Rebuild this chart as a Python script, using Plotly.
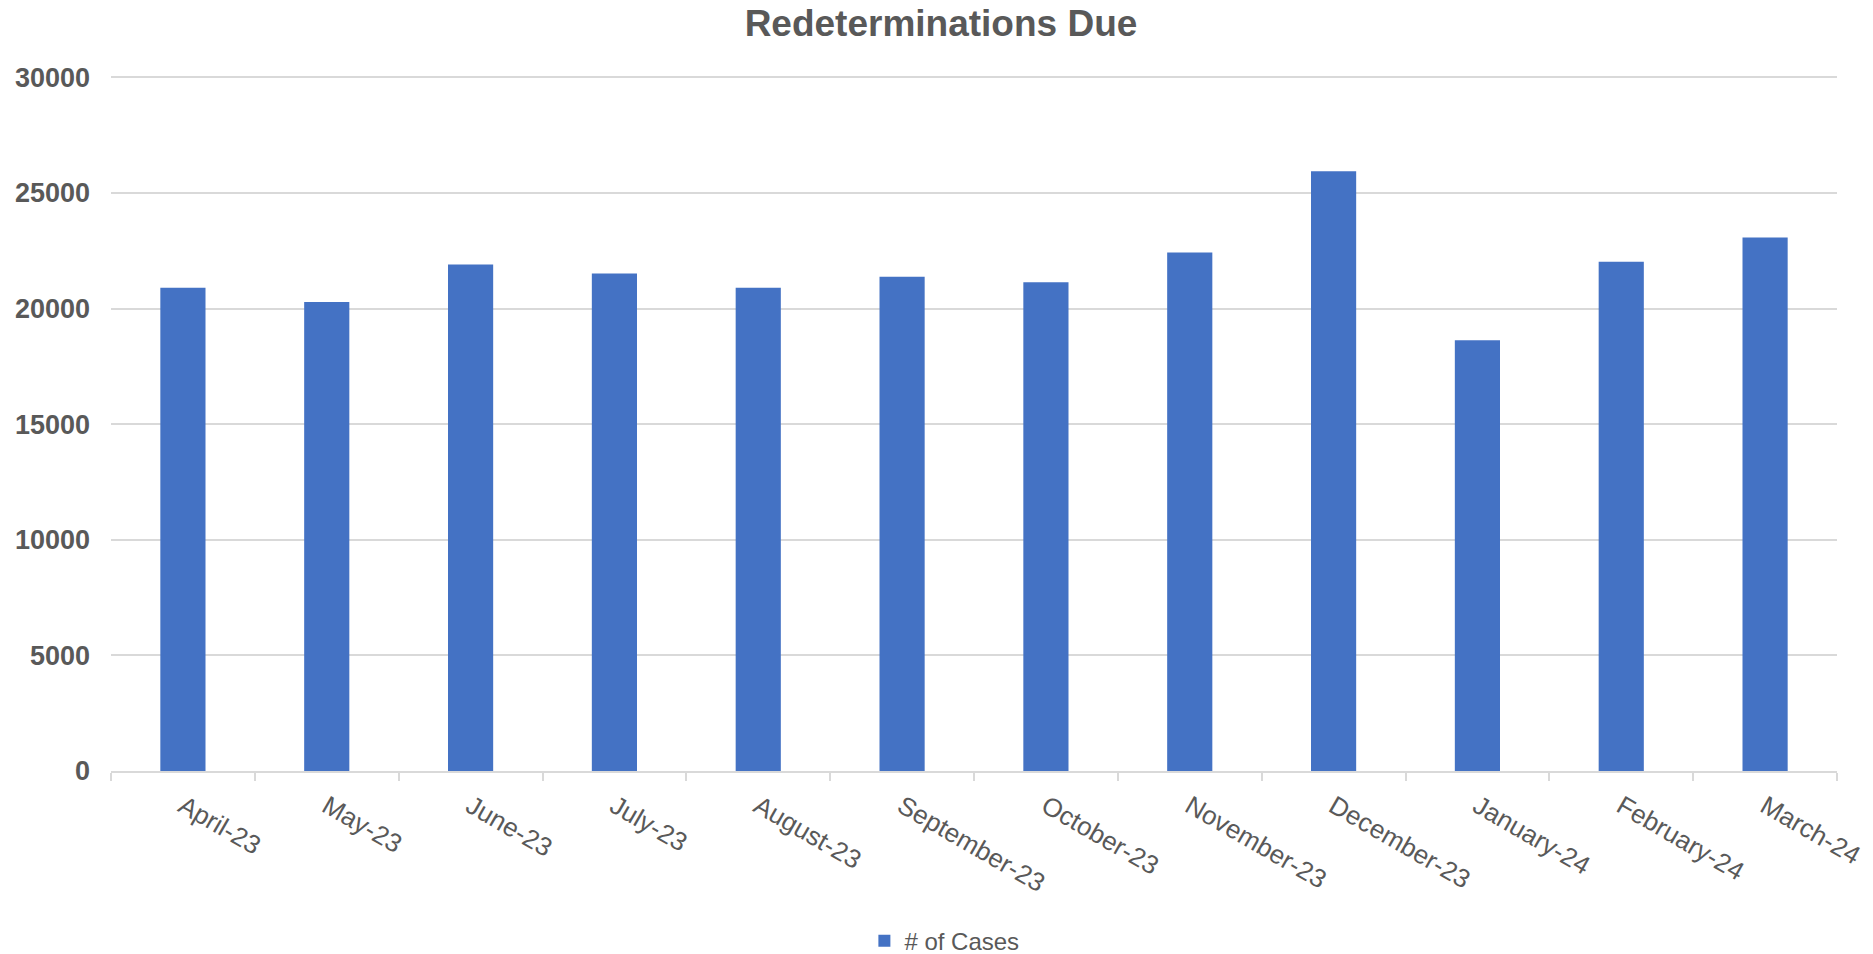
import plotly.graph_objects as go

months = ["April-23", "May-23", "June-23", "July-23", "August-23", "September-23",
          "October-23", "November-23", "December-23", "January-24", "February-24", "March-24"]
cases = [20900, 20280, 21910, 21520, 20900, 21380, 21140, 22430, 25940, 18630, 22030, 23070]
y_ticks = [0, 5000, 10000, 15000, 20000, 25000, 30000]

GRAY = "#595959"
GRID = "#d9d9d9"
FONT = "Liberation Sans, Arial, sans-serif"

fig = go.Figure()
fig.add_trace(go.Bar(
    x=months, y=cases, name="# of Cases",
    marker=dict(color="#4472C4", line=dict(width=0)),
    showlegend=True,
))

fig.update_layout(
    width=1873, height=954,
    margin=dict(l=111, r=36, t=76, b=183, autoexpand=False),
    paper_bgcolor="white", plot_bgcolor="white",
    bargap=0.686,
    font=dict(family=FONT, color=GRAY),
    title=dict(text="<b>Redeterminations Due</b>", x=0.5024, xanchor="center",
               y=0.976, yanchor="middle", yref="container",
               font=dict(size=37, color=GRAY, family=FONT)),
    legend=dict(orientation="h", xref="container", yref="container",
                x=0.4615, xanchor="left", y=0.0136, yanchor="middle",
                font=dict(size=24, color=GRAY), itemwidth=30),
    xaxis=dict(
        tickangle=30, tickfont=dict(size=26, color=GRAY),
        showline=True, linecolor=GRID, linewidth=2,
        ticks="outside", tickson="boundaries", ticklen=8, tickcolor=GRID, tickwidth=2,
        showgrid=False, automargin=False, ticklabelstandoff=8,
    ),
    yaxis=dict(
        range=[0, 30060], tickvals=y_ticks, ticktext=[str(v) for v in y_ticks],
        tickfont=dict(size=27, color=GRAY, family=FONT, weight="bold"),
        showgrid=True, gridcolor=GRID, gridwidth=2,
        zeroline=False, showline=False, ticks="", ticklabelstandoff=20,
        automargin=False,
    ),
)

fig.write_html("out.html", config={"displayModeBar": False},
               post_script="document.body.style.margin='0px';document.body.style.overflow='hidden';")
